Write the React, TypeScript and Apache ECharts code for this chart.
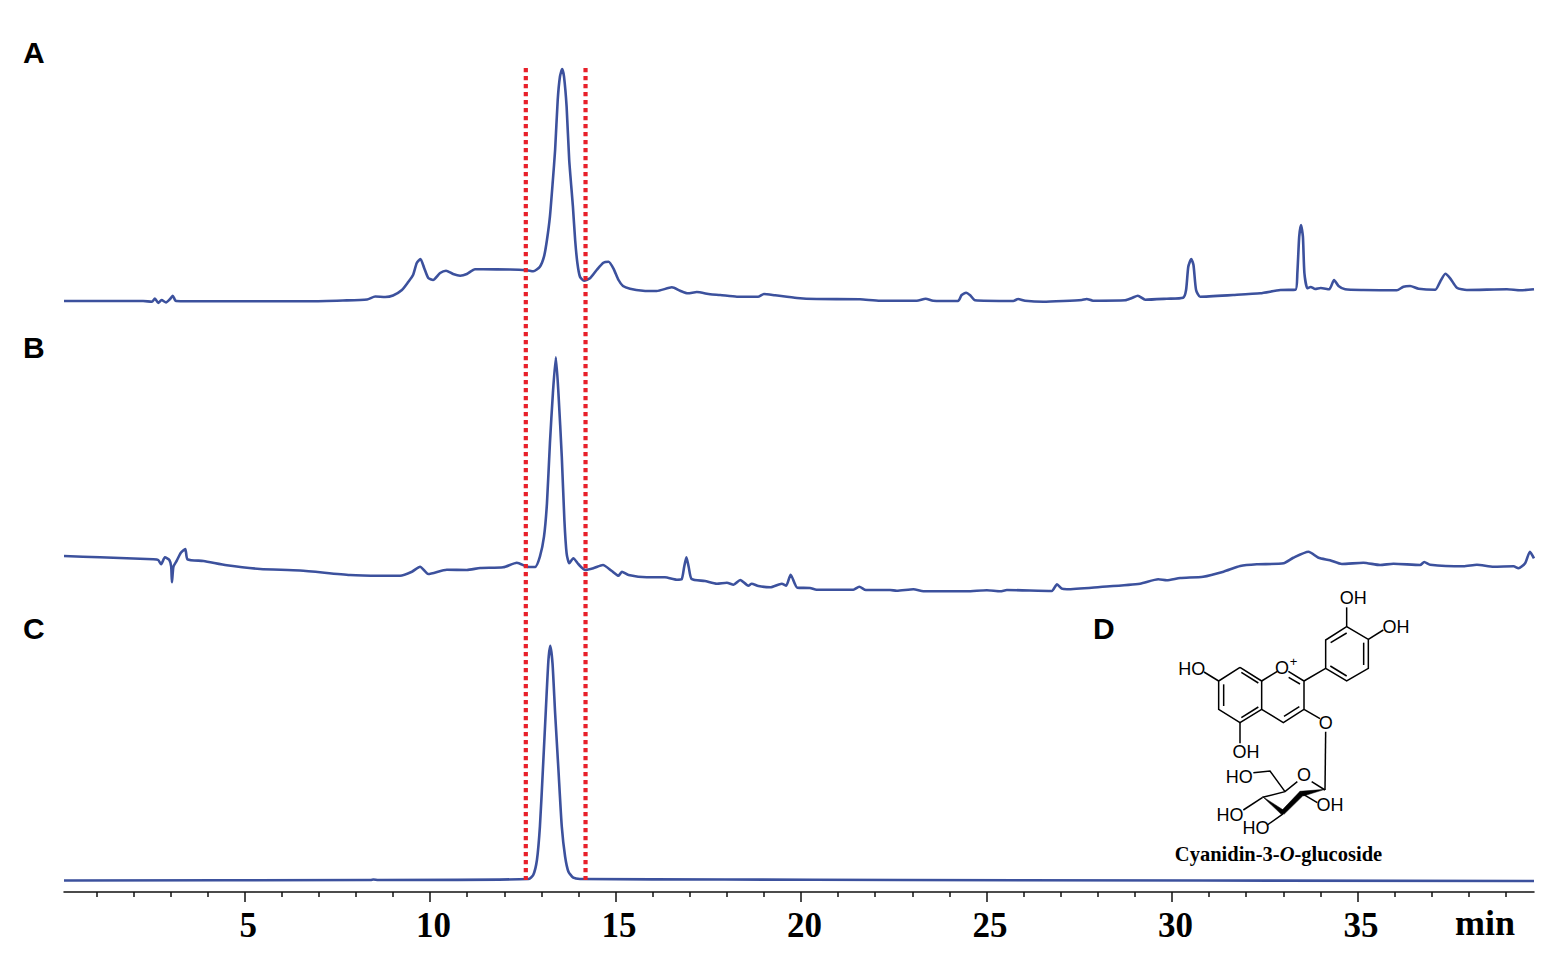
import React, { useEffect, useRef } from "react";
import * as echarts from "echarts";

const timesA = [0.13,1.10,2.26,2.50,2.58,2.67,2.76,2.88,2.99,3.06,3.15,4.07,6.76,7.65,8.30,8.52,8.79,9.00,9.24,9.41,9.54,9.64,9.74,9.84,9.95,10.08,10.27,10.43,10.62,10.81,10.99,11.21,11.43,12.16,12.61,12.78,12.96,13.07,13.15,13.23,13.31,13.37,13.44,13.50,13.56,13.61,13.68,13.75,13.85,13.91,13.97,14.04,14.15,14.31,14.49,14.67,14.81,14.94,15.08,15.20,15.39,15.74,16.11,16.52,16.74,16.95,17.19,17.55,17.82,18.27,18.84,19.00,19.30,19.89,20.42,21.59,22.13,23.12,23.36,23.56,24.23,24.33,24.45,24.56,24.69,25.72,25.85,26.04,26.53,27.07,27.57,27.70,27.87,28.74,28.92,29.08,29.28,29.86,30.30,30.38,30.44,30.52,30.58,30.65,30.76,31.65,32.38,32.92,33.33,33.38,33.43,33.48,33.53,33.57,33.65,33.74,33.86,34.01,34.24,34.37,34.49,34.67,35.16,36.06,36.24,36.42,36.65,37.10,37.23,37.37,37.50,37.68,37.95,39.03,39.39,39.76];
const valuesA = [9,9,9,8.3,11.5,7,10,7.5,11,14.3,9,8.7,8.7,9.5,10.5,13.5,13,14.5,20,28,35,47,51,42,32,30,37,39.3,36,34.3,36,40.7,40.7,40.5,39.7,38.7,43.3,53.3,70,93.3,130,160,210,233.3,241,233.3,203.3,150,103.3,70,47,33.3,29.3,31.7,40,47.3,48.3,41.7,30,24,21.3,19.3,19,22.7,19.3,16.7,18,15.7,15,13.3,13.3,16,14.7,12,11,10.7,9.3,9.3,11.3,9.3,9,15,17.3,14.7,9.7,9,11,9.3,8.3,9,10,11,9.3,9.7,12,14.3,10.3,11.3,12.3,20,43.3,51,45,20,13.3,15,16.7,20,20.3,36.7,73.3,85,73.3,37,21.7,23,21,22,20.7,30,24,20.7,20,19.7,23.3,24,21.3,20.3,28.3,36.3,31.7,22.3,20,20.7,19.7,20.7];

const timesB = [0.13,1.10,2.54,2.67,2.75,2.85,2.97,3.02,3.04,3.08,3.17,3.28,3.40,3.46,3.89,4.52,5.42,6.49,7.84,8.65,9.19,9.51,9.73,9.95,10.45,10.99,11.35,11.97,12.34,12.61,12.83,12.96,13.07,13.15,13.23,13.31,13.39,13.46,13.55,13.62,13.68,13.75,13.86,14.00,14.18,14.40,14.66,14.90,15.08,15.17,15.35,15.84,16.33,16.65,16.78,16.85,16.91,16.97,17.05,17.41,17.73,18.00,18.18,18.36,18.58,18.67,18.85,19.17,19.48,19.60,19.72,19.90,20.24,20.42,21.41,21.57,21.75,22.40,22.58,23.03,23.30,24.47,25.01,25.37,25.55,26.76,26.90,27.03,27.17,28.06,29.14,29.63,29.86,30.22,30.84,31.39,31.84,32.29,33.01,33.27,33.68,33.95,34.26,34.58,35.16,35.61,35.97,36.69,36.80,36.96,37.86,38.22,38.67,39.21,39.34,39.52,39.65,39.76];
const valuesB = [44,42.7,40.7,40,35.7,42.7,40,33.3,17.7,33.3,39.3,47.3,51,40.7,39,34.7,31,29.5,25,24.3,24.3,28.3,33.3,26,30.3,30,32,32.7,37.3,33.3,33,43.3,63.3,96.7,156.7,206.7,242.7,206.7,143.3,80,46.7,36.7,41.7,35.7,30,31.7,35,29,24.3,28.3,25,22.7,22.7,20.3,20.7,33.3,42.7,33.3,21,19,16.3,17.3,15.3,20,14.3,16.3,14,12.7,16.3,14.3,25.3,12.3,12,10.3,10.3,13.3,10,10,9.3,10.7,8.7,8.7,9.7,8.7,10,9,15.7,11.3,10.7,13,16.3,20.7,19.7,22,23.3,28.3,34,35.7,36.7,42.3,48.3,42.3,39.7,36,37.3,35,36.3,35,38,35.3,33.7,35.3,33.3,33.7,31.7,36.7,48.3,41.7];

const timesC = [0.13,8.40,8.47,8.60,12.65,12.78,12.88,12.96,13.04,13.12,13.19,13.24,13.30,13.37,13.46,13.55,13.64,13.73,13.86,14.04,17.95,22.67,39.76];
const valuesC = [9.5,10,10.5,10,11,15,30,63.3,120,180,230,244.3,226.7,177,120,63.3,33.3,18.3,12.3,11,10.5,10,9];

const windowStart = 12.58;
const windowEnd = 14.19;
const majorTicks = [5,10,15,20,25,30,35];
const minorTicks = [1,2,3,4,6,7,8,9,11,12,13,14,16,17,18,19,21,22,23,24,26,27,28,29,31,32,33,34,36,37,38,39];
const panelLabels = ["A","B","C","D"];
const unitLabel = "min";

const X_MIN = 0.13, X_MAX = 39.76;
const BLUE = "#3c519d";
const RED = "#e8202a";

const zip = (ts: number[], vs: number[]) => ts.map((t, i) => [t, vs[i]]);
const P = (zx: number, zy: number): [number, number] => [1080 + zx / 3, 580 + zy / 3];

const bonds: number[][][] = [
  [[480,262],[545,303],[545,388],[480,428],[416,388],[416,303],[480,262]],
  [[484,277],[535,309]],[[431,313],[431,378]],[[484,413],[535,381]],
  [[545,303],[592,274]],[[625,274],[672,303],[672,388],[610,428],[545,388]],
  [[626,292],[660,312]],[[658,380],[612,409]],
  [[416,303],[372,276]],[[480,428],[480,490]],
  [[672,303],[737,265],[737,180],[800,140],[865,178],[865,265],[800,303],[737,265]],
  [[751,258],[800,288]],[[752,188],[800,159]],[[851,188],[851,255]],
  [[800,140],[800,82]],[[865,178],[910,150]],
  [[672,388],[720,416]],[[737,455],[735,630]],
  [[695,605],[735,630]],[[652,605],[615,635],[548,652]],
  [[615,635],[570,573],[520,578]],
  [[665,640],[712,668]],[[548,652],[490,690]],[[607,697],[607,703],[562,735]],
];
const wedges: number[][][] = [
  [[548,650],[610,690],[604,703]],
  [[600,697],[660,634],[670,646],[612,703]],
  [[660,634],[735,628],[670,648]],
];
const atoms: [string, number, number][] = [
  ["HO",335,267],["O",606,265],["OH",498,516],["OH",820,55],["OH",948,140],
  ["O",737,430],["O",672,585],["HO",478,590],["OH",750,675],["HO",450,705],["HO",528,745],
];

export default function App() {
  const ref = useRef<HTMLDivElement>(null);
  useEffect(() => {
    document.body.style.margin = "0";
    const chart = echarts.init(ref.current!, null, { renderer: "svg" });
    const panel = (data: number[][]) => ({
      type: "line", data, showSymbol: false, symbol: "none", clip: false, smooth: 0.2,
      lineStyle: { color: BLUE, width: 2.6, join: "round" }, itemStyle: { color: BLUE },
    });
    const hiddenX = (gridIndex: number) => ({ type: "value", gridIndex, min: X_MIN, max: X_MAX, show: false });
    const hiddenY = (gridIndex: number, max: number) => ({ type: "value", gridIndex, min: 0, max, show: false });
    const marker = (t: number) => ({
      type: "line", xAxisIndex: 1, yAxisIndex: 3, symbol: "none", showSymbol: false, clip: false, z: 5,
      data: [[t, 824], [t, 12]],
      lineStyle: { color: RED, width: 4.2, type: [4.2, 3.8], cap: "butt" },
    });
    const labelText = (text: string, x: number, y: number) => ({
      type: "text", style: { text, x, y, fill: "#000", font: "bold 30px 'Liberation Sans'", align: "left", verticalAlign: "middle" },
    });
    chart.setOption({
      animation: false,
      backgroundColor: "#fff",
      grid: [
        { left: 64, width: 1470, top: 60, height: 250 },
        { left: 64, width: 1470, top: 350, height: 250 },
        { left: 64, width: 1470, top: 640, height: 250 },
        { left: 64, width: 1470, top: 68, height: 824 },
      ],
      xAxis: [
        hiddenX(0), hiddenX(1), hiddenX(2),
        {
          type: "value", gridIndex: 3, min: X_MIN, max: X_MAX, position: "bottom",
          splitLine: { show: false },
          axisLine: { show: true, onZero: false, lineStyle: { color: "#111", width: 1.5 } },
          axisTick: { show: true, customValues: majorTicks, length: 10, lineStyle: { color: "#111", width: 1.5 } },
          axisLabel: { show: true, customValues: majorTicks, margin: 16, color: "#000", fontFamily: "'Liberation Serif'", fontWeight: "bold", fontSize: 35, padding: [0, 0, 0, 7] },
        },
        {
          type: "value", gridIndex: 3, min: X_MIN, max: X_MAX, position: "bottom",
          splitLine: { show: false },
          axisLine: { show: false, onZero: false },
          axisTick: { show: true, customValues: minorTicks, length: 5, lineStyle: { color: "#111", width: 1.5 } },
          axisLabel: { show: false },
        },
      ],
      yAxis: [hiddenY(0, 250), hiddenY(1, 250), hiddenY(2, 250), hiddenY(3, 824)],
      series: [
        { ...panel(zip(timesA, valuesA)), xAxisIndex: 0, yAxisIndex: 0 },
        { ...panel(zip(timesB, valuesB)), xAxisIndex: 1, yAxisIndex: 1 },
        { ...panel(zip(timesC, valuesC)), xAxisIndex: 2, yAxisIndex: 2 },
        { ...marker(windowStart), xAxisIndex: 3 },
        { ...marker(windowEnd), xAxisIndex: 3 },
      ],
      graphic: [
        labelText(panelLabels[0], 23, 52.5),
        labelText(panelLabels[1], 23, 347.5),
        labelText(panelLabels[2], 23, 628.5),
        labelText(panelLabels[3], 1093, 628.5),
        { type: "text", style: { text: unitLabel, x: 1455, y: 941, fill: "#000", font: "bold 36px 'Liberation Serif'", align: "left", verticalAlign: "bottom" } },
        ...bonds.map((b) => ({ type: "polyline", shape: { points: b.map(([x, y]) => P(x, y)) }, style: { stroke: "#000", lineWidth: 1.5, fill: "none" } })),
        ...wedges.map((w) => ({ type: "polygon", shape: { points: w.map(([x, y]) => P(x, y)) }, style: { fill: "#000", stroke: "#000", lineWidth: 0.5 } })),
        ...atoms.map(([text, zx, zy]) => {
          const [x, y] = P(zx, zy);
          return { type: "text", style: { text, x, y, fill: "#000", font: "18px 'Liberation Sans'", align: "center", verticalAlign: "middle" } };
        }),
        { type: "text", style: { text: "+", x: P(641, 244)[0], y: P(641, 244)[1], fill: "#000", font: "13px 'Liberation Sans'", align: "center", verticalAlign: "middle" } },
        {
          type: "text",
          style: {
            text: "{a|Cyanidin-3-}{i|O}{a|-glucoside}", x: 1278.5, y: 854, align: "center", verticalAlign: "middle",
            rich: {
              a: { font: "bold 20.5px 'Liberation Serif'", fill: "#000" },
              i: { font: "italic bold 20.5px 'Liberation Serif'", fill: "#000" },
            },
          },
        },
      ],
    });
    return () => chart.dispose();
  }, []);
  return <div ref={ref} style={{ position: "fixed", left: 0, top: 0, width: 1562, height: 962 }} />;
}
